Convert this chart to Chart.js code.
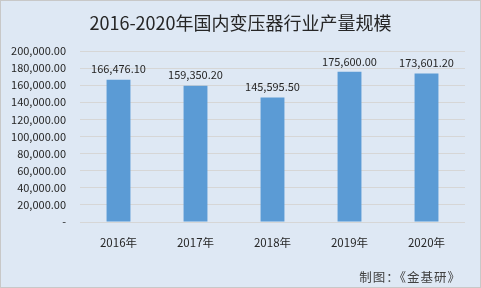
<!DOCTYPE html>
<html>
<head>
<meta charset="utf-8">
<script src="https://cdn.jsdelivr.net/npm/chart.js@4"></script>
<style>
  html, body { margin: 0; padding: 0; background: #fff; }
  #wrap { width: 479px; height: 286px; border: 1px solid #c8c8c8; background: #dee8f4; }
</style>
</head>
<body>
<div id="wrap"><canvas id="chart" width="479" height="286"></canvas></div>
<script>
// chart data
const years = ['2016年', '2017年', '2018年', '2019年', '2020年'];
const output = [166476.10, 159350.20, 145595.50, 175600.00, 173601.20];
const chartTitle = '2016-2020年国内变压器行业产量规模';
const sourceNote = '制图：《金基研》';

const fontCN = '"Noto Sans CJK SC", "Noto Sans", sans-serif';

function fmt(v) {
    if (v === 0) return '-';
    return v.toLocaleString('en-US', { minimumFractionDigits: 2, maximumFractionDigits: 2 });
}

// draws the value above each bar, plus title and footer
const labelPlugin = {
    id: 'labels',
    afterDatasetsDraw(chart) {
        const ctx = chart.ctx;
        ctx.save();
        ctx.fillStyle = '#262626';
        ctx.font = '11px ' + fontCN;
        ctx.textAlign = 'center';
        ctx.textBaseline = 'bottom';
        chart.getDatasetMeta(0).data.forEach((bar, i) => {
            ctx.fillText(fmt(output[i]), bar.x, bar.y - 5);
        });

        ctx.font = '18px ' + fontCN;
        ctx.textBaseline = 'middle';
        ctx.fillText(chartTitle, chart.width / 2, 22);

        ctx.font = '12.5px ' + fontCN;
        ctx.textAlign = 'right';
        ctx.fillStyle = '#404040';
        ctx.letterSpacing = '1px';
        ctx.fillText(sourceNote, 460, 276);
        ctx.restore();
    }
};

const ctx = document.getElementById('chart').getContext('2d');
new Chart(ctx, {
    type: 'bar',
    data: {
        labels: years,
        datasets: [{
            data: output,
            backgroundColor: '#5b9bd5',
            barPercentage: 0.31,
            categoryPercentage: 1
        }]
    },
    plugins: [labelPlugin],
    options: {
        responsive: false,
        animation: false,
        layout: { padding: { top: 50, bottom: 25, right: 15, left: 0 } },
        plugins: { legend: { display: false }, tooltip: { enabled: false } },
        scales: {
            y: {
                min: 0,
                max: 200000,
                afterFit: s => { s.width = 79; },
                border: { display: false },
                grid: { color: '#d6d6d6', drawTicks: false },
                ticks: {
                    stepSize: 20000,
                    padding: 14,
                    color: '#262626',
                    font: { family: fontCN, size: 11 },
                    callback: v => fmt(v)
                }
            },
            x: {
                afterFit: s => { s.height = 40; },
                border: { display: false },
                grid: { display: false },
                ticks: {
                    padding: 6,
                    color: '#262626',
                    font: { family: fontCN, size: 11.5 }
                }
            }
        }
    }
});
</script>
</body>
</html>
